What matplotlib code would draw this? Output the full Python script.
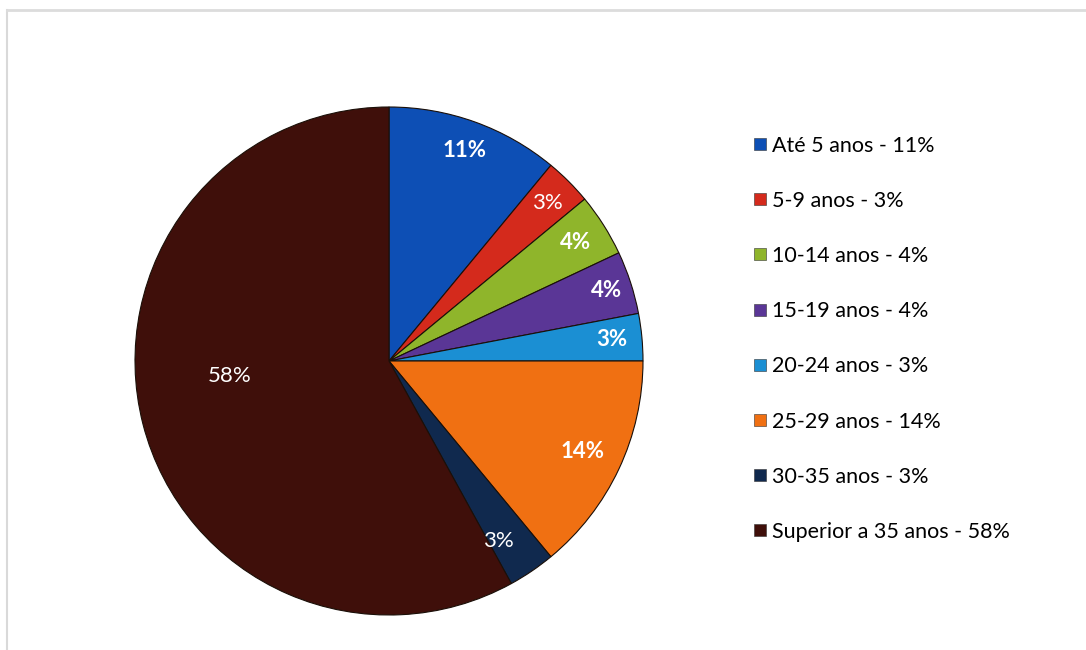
import numpy as np
import matplotlib
matplotlib.use("Agg")
import matplotlib.pyplot as plt
from matplotlib.lines import Line2D

# dados do grafico
faixas = ["Até 5 anos", "5-9 anos", "10-14 anos", "15-19 anos",
          "20-24 anos", "25-29 anos", "30-35 anos", "Superior a 35 anos"]
percentuais = [11, 3, 4, 4, 3, 14, 3, 58]
cores = ["#0D4FB5", "#D42A1C", "#8FB52B", "#5A3696",
         "#1B8FD3", "#F07012", "#10294E", "#3F0F0A"]

# estilo dos rotulos (distancia do centro, desvio do angulo e negrito)
dist_rotulo = [0.88, 0.88, 0.87, 0.90, 0.88, 0.84, 0.83, 0.63]
desvio_ang = [0, 0, 0, 0, 0, 0, -3, -9]
negrito = [True, False, True, True, True, True, False, False]

plt.rcParams["font.family"] = ["Lato", "DejaVu Sans"]

fig = plt.figure(figsize=(10.86, 6.5), dpi=100)
fig.patch.set_facecolor("white")

# moldura clara (esquerda e topo)
fig.add_artist(Line2D([7 / 1086, 7 / 1086], [0, 1 - 10 / 650], color="#d9d9d9", lw=1.5))
fig.add_artist(Line2D([7 / 1086, 1], [1 - 10 / 650, 1 - 10 / 650], color="#dcdcdc", lw=2))

cx, cy, r = 389, 361, 254
ax = fig.add_axes([(cx - r) / 1086, (650 - cy - r) / 650, 2 * r / 1086, 2 * r / 650])

wedges, _ = ax.pie(percentuais, colors=cores, startangle=90, counterclock=False,
                   radius=1, wedgeprops=dict(edgecolor="#1a0f08", linewidth=0.8))
ax.set_xlim(-1, 1)
ax.set_ylim(-1, 1)
ax.axis("off")

for w, p, d, da, b in zip(wedges, percentuais, dist_rotulo, desvio_ang, negrito):
    ang = np.deg2rad((w.theta1 + w.theta2) / 2 + da)
    ax.text(d * np.cos(ang), d * np.sin(ang), f"{p}%", color="white",
            fontsize=16, fontweight="bold" if b else "normal",
            ha="center", va="center")

handles = [Line2D([], [], marker="s", linestyle="none", markersize=8,
                  markerfacecolor=c, markeredgecolor="#333333", markeredgewidth=0.4)
           for c in cores]
labels = [f"{f} - {p}%" for f, p in zip(faixas, percentuais)]
fig.legend(handles, labels, loc="upper left", bbox_to_anchor=(745 / 1086, 1 - 127 / 650),
           frameon=False, fontsize=15.5, labelspacing=1.635, handlelength=0.6,
           handletextpad=0.25, borderaxespad=0)

plt.savefig("out.png", dpi=100)
